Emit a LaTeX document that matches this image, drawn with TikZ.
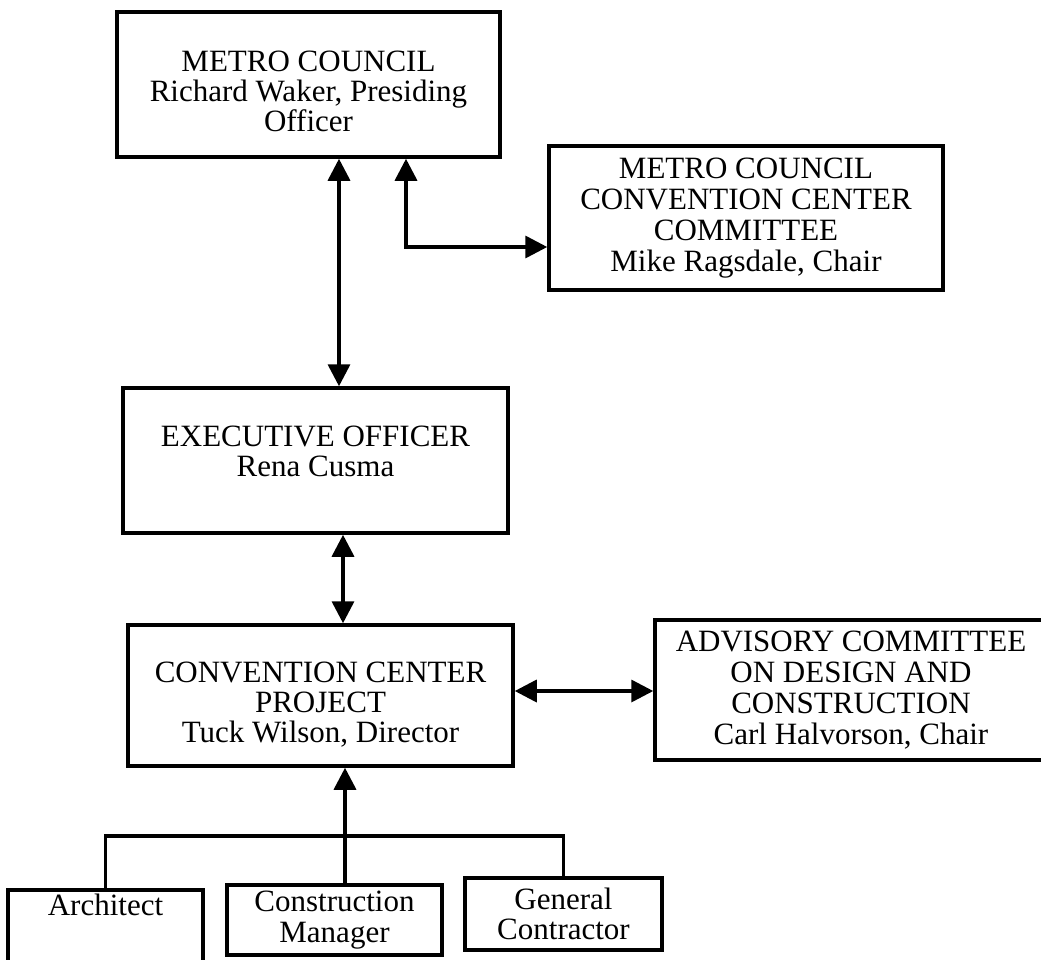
\documentclass[tikz,border=0pt]{standalone}
\usepackage{fontspec}
\setmainfont{Liberation Serif}
\usetikzlibrary{arrows.meta}

\tikzset{
	orgbox/.style={draw, line width=3.5pt, align=center, inner sep=0pt,
		font=\fontsize{31}{30}\selectfont},
	tall text/.style={font=\fontsize{31}{31}\selectfont},
	tie/.style={line width=3.5pt},
	>={Triangle[length=22pt,width=22pt]}
}

\begin{document}
\begin{tikzpicture}[x=1pt, y=-1pt]
		\useasboundingbox (0,0) rectangle (1041,959);
		% council and its committee
		\node[orgbox, minimum width=383pt, minimum height=145pt, text height=95pt] (mc) at (308.5,84.5) {METRO COUNCIL\\Richard Waker, Presiding\\Officer};
		\node[orgbox, tall text, minimum width=394pt, minimum height=144pt] (cte) at (746,218) {METRO COUNCIL\\CONVENTION CENTER\\COMMITTEE\\Mike Ragsdale, Chair};
		% executive and project
		\node[orgbox, minimum width=385pt, minimum height=145pt, text depth=18pt] (exe) at (315.5,460.5) {EXECUTIVE OFFICER\\Rena Cusma};
		\node[orgbox, minimum width=385pt, minimum height=141pt, text height=98pt] (ccp) at (320.5,695.5) {CONVENTION CENTER\\PROJECT\\Tuck Wilson, Director};
		\node[orgbox, tall text, minimum width=392pt, minimum height=140pt] (adv) at (851,690) {ADVISORY COMMITTEE\\ON DESIGN AND\\CONSTRUCTION\\Carl Halvorson, Chair};
		% firms
		\node[orgbox, minimum width=195pt, minimum height=72pt, text depth=43pt] (arch) at (105.5,926) {Architect};
		\node[orgbox, tall text, minimum width=215pt, minimum height=70pt] (cm) at (334.5,920) {Construction\\Manager};
		\node[orgbox, minimum width=197pt, minimum height=72pt] (gc) at (563.5,914) {General\\Contractor};

		\coordinate (spine) at (339,0);
		\coordinate (elbow) at (406,247);
		\coordinate (spine2) at (343,0);
		\coordinate (mid) at (0,691);
		\coordinate (bus) at (0,836);
		\coordinate (feed) at (345,0);

		\draw[tie, <->] (spine |- mc.south) -- (spine |- exe.north);
		\draw[tie, <->] (elbow |- mc.south) -- (elbow) -- (elbow -| cte.west);
		\draw[tie, <->] (spine2 |- exe.south) -- (spine2 |- ccp.north);
		\draw[tie, <->] (ccp.east |- mid) -- (adv.west |- mid);
		% firms report to the project
		\draw[tie] (arch.north) -- (arch.north |- bus) -- (gc.north |- bus) -- (gc.north);
		\draw[tie, ->] (feed |- cm.north) -- (feed |- ccp.south);
\end{tikzpicture}
\end{document}
